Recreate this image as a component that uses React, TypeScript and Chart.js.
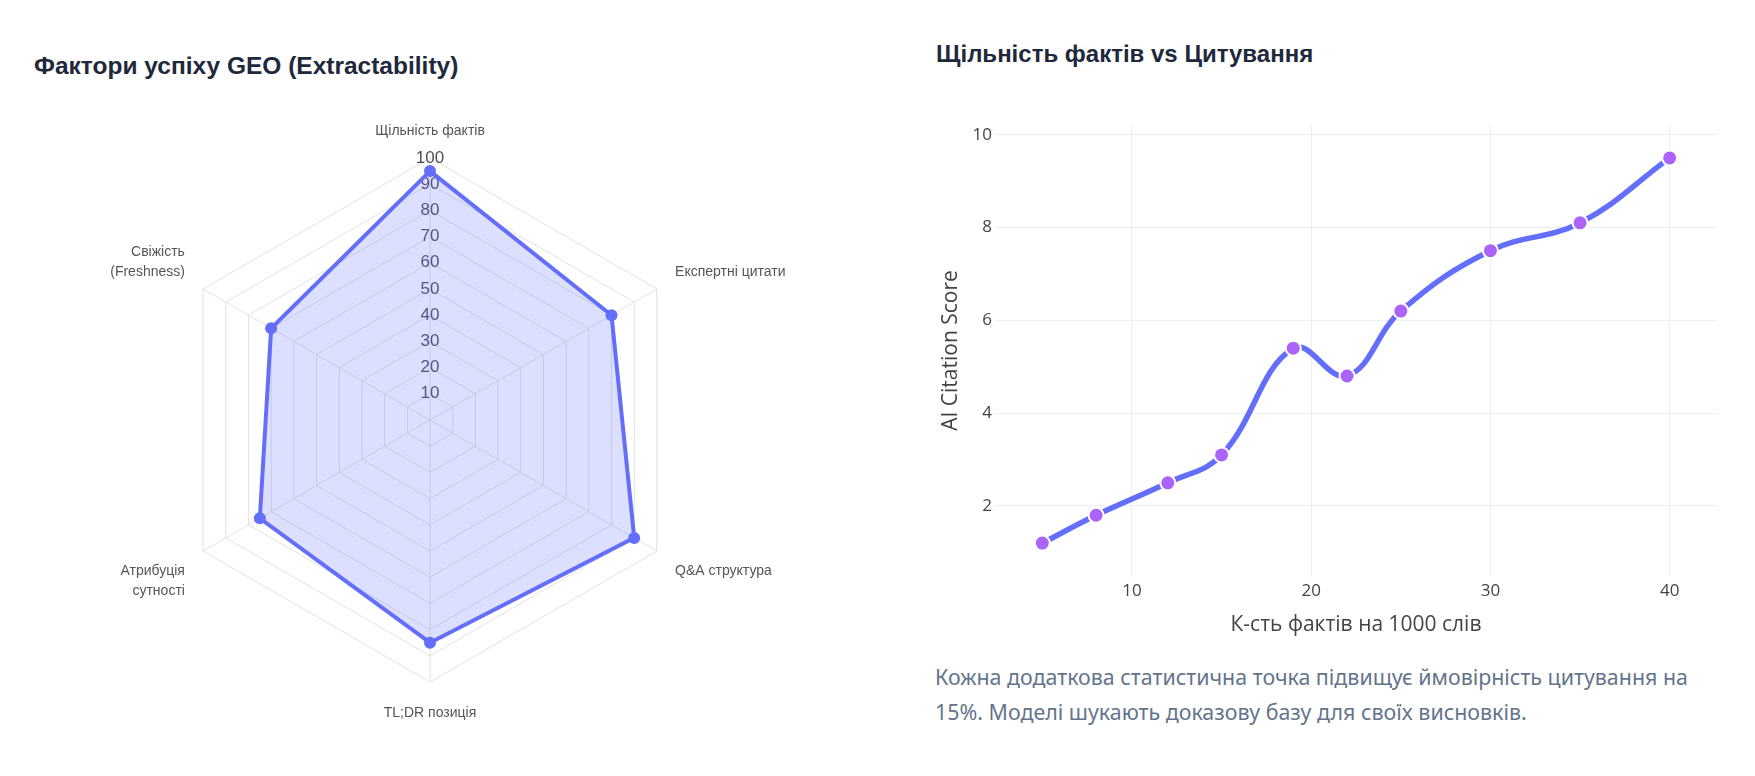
import { useEffect, useRef } from 'react'
import { Chart, ChartConfiguration, registerables } from 'chart.js'

Chart.register(...registerables)

// ---- radar data ----
const radarLabels: string[][] = [
  ['Щільність фактів'],
  ['Експертні цитати'],
  ['Q&A структура'],
  ['TL;DR позиція'],
  ['Атрибуція', 'сутності'],
  ['Свіжість', '(Freshness)'],
]
const radarValues = [95, 80, 90, 85, 75, 70]

// ---- line data ----
const factDensity = [5, 8, 12, 15, 19, 22, 25, 30, 35, 40]
const citationScore = [1.2, 1.8, 2.5, 3.1, 5.4, 4.8, 6.2, 7.5, 8.1, 9.5]
const xTickValues = [10, 20, 30, 40]
const yTickValues = [2, 4, 6, 8, 10]

const PLOTLY_BLUE = '#636efa'
const PLOTLY_PURPLE = '#ab63fa'
const RADAR_FONT = '"Liberation Sans", Arial, sans-serif'
const LINE_FONT = '"Open Sans", "Noto Sans", sans-serif'

const LABEL_GAP = 21
const LABEL_LINE = 20

// point labels drawn next to the radial scale, plotly-style
const radarLabelPlugin = {
  id: 'radarLabels',
  afterDraw(chart: Chart) {
    const scale: any = chart.scales.r
    const ctx = chart.ctx
    ctx.save()
    ctx.font = `14px ${RADAR_FONT}`
    ctx.fillStyle = '#555'
    ctx.textBaseline = 'middle'
    radarLabels.forEach((lines, i) => {
      const p = scale.getPointPosition(i, scale.drawingArea + LABEL_GAP)
      const deg = Math.round((scale.getIndexAngle(i) * 180) / Math.PI) % 360
      ctx.textAlign = deg === 0 || deg === 180 ? 'center' : deg < 180 ? 'left' : 'right'
      const h = lines.length * LABEL_LINE
      // labels above the point sit a bit lower in the original
      const top = deg < 90 || deg > 270 ? p.y - h + 4 : p.y
      lines.forEach((t, k) => ctx.fillText(t, p.x, top + LABEL_LINE * k + LABEL_LINE / 2))
    })
    ctx.restore()
  },
}

function RadarChart() {
  const canvasRef = useRef<HTMLCanvasElement>(null)

  useEffect(() => {
    if (!canvasRef.current) return
    const config: ChartConfiguration<'radar'> = {
      type: 'radar',
      data: {
        labels: radarLabels.map((l) => l.join(' ')),
        datasets: [
          {
            data: radarValues,
            borderColor: PLOTLY_BLUE,
            backgroundColor: 'rgba(99, 110, 250, 0.22)',
            borderWidth: 4,
            fill: true,
            pointRadius: 6,
            pointBackgroundColor: PLOTLY_BLUE,
            pointBorderWidth: 0,
          },
        ],
      },
      options: {
        animation: false,
        responsive: true,
        maintainAspectRatio: false,
        layout: { padding: { left: 117, right: 117, top: 47, bottom: 57 } },
        plugins: { legend: { display: false }, tooltip: { enabled: false } },
        elements: { line: { tension: 0 } },
        scales: {
          r: {
            min: 0,
            max: 100,
            ticks: {
              stepSize: 10,
              showLabelBackdrop: false,
              color: '#4f4f5a',
              font: { family: RADAR_FONT, size: 17 },
            },
            grid: { color: '#e2e2e2', lineWidth: 1 },
            angleLines: { color: '#e2e2e2', lineWidth: 1 },
            pointLabels: { display: false },
          },
        },
      },
      plugins: [radarLabelPlugin],
    }
    const chart = new Chart(canvasRef.current, config)
    return () => chart.destroy()
  }, [])

  return (
    <div style={{ position: 'absolute', left: 40, top: 100, width: 780, height: 650 }}>
      <canvas ref={canvasRef} />
    </div>
  )
}

function DensityChart() {
  const canvasRef = useRef<HTMLCanvasElement>(null)

  useEffect(() => {
    if (!canvasRef.current) return
    const config: ChartConfiguration<'line'> = {
      type: 'line',
      data: {
        datasets: [
          {
            data: factDensity.map((x, i) => ({ x, y: citationScore[i] })),
            borderColor: PLOTLY_BLUE,
            borderWidth: 5.5,
            tension: 0.4,
            fill: false,
            pointRadius: 7.5,
            pointBackgroundColor: PLOTLY_PURPLE,
            pointBorderColor: '#ffffff',
            pointBorderWidth: 2,
          },
        ],
      },
      options: {
        animation: false,
        responsive: true,
        maintainAspectRatio: false,
        layout: { padding: { left: 5, right: 13, top: 24, bottom: 0 } },
        plugins: { legend: { display: false }, tooltip: { enabled: false } },
        scales: {
          x: {
            type: 'linear',
            min: 2.36,
            max: 42.64,
            afterBuildTicks: (s: any) => {
              s.ticks = xTickValues.map((v) => ({ value: v }))
            },
            afterFit: (s: any) => {
              s.height = 70
            },
            grid: { color: '#ebf0f8', drawTicks: false },
            border: { display: false },
            ticks: { padding: 4, color: '#444', font: { family: LINE_FONT, size: 17 } },
            title: {
              display: true,
              text: 'К-сть фактів на 1000 слів',
              color: '#444',
              font: { family: LINE_FONT, size: 21 },
              padding: { top: 0, bottom: 9 },
            },
          },
          y: {
            type: 'linear',
            min: 0.47,
            max: 10.23,
            afterBuildTicks: (s: any) => {
              s.ticks = yTickValues.map((v) => ({ value: v }))
            },
            afterFit: (s: any) => {
              s.width = 60
            },
            grid: { color: '#ebf0f8', drawTicks: false },
            border: { display: false },
            ticks: { padding: 3, color: '#444', font: { family: LINE_FONT, size: 17 } },
            title: {
              display: true,
              text: 'AI Citation Score',
              color: '#444',
              font: { family: LINE_FONT, size: 21 },
              padding: { top: 3, bottom: 0 },
            },
          },
        },
      },
    }
    const chart = new Chart(canvasRef.current, config)
    return () => chart.destroy()
  }, [])

  return (
    <div style={{ position: 'absolute', left: 930, top: 100, width: 800, height: 547 }}>
      <canvas ref={canvasRef} />
    </div>
  )
}

const titleStyle: React.CSSProperties = {
  position: 'absolute',
  margin: 0,
  fontFamily: RADAR_FONT,
  fontWeight: 700,
  fontSize: 24,
  lineHeight: '30px',
  color: '#1e293b',
  whiteSpace: 'nowrap',
}

export default function App() {
  return (
    <div
      style={{
        position: 'absolute',
        left: 0,
        top: 0,
        width: 1755,
        height: 776,
        overflow: 'hidden',
        background: '#ffffff',
      }}
    >
      <div style={{ ...titleStyle, left: 34, top: 51, fontSize: 24.5 }}>
        Фактори успіху GEO (Extractability)
      </div>
      <div style={{ ...titleStyle, left: 936, top: 39 }}>Щільність фактів vs Цитування</div>
      <RadarChart />
      <DensityChart />
      <div
        style={{
          position: 'absolute',
          left: 935,
          top: 659,
          width: 785,
          fontFamily: '"Noto Sans", sans-serif',
          fontSize: 21.4,
          lineHeight: '35px',
          color: '#64748b',
        }}
      >
        Кожна додаткова статистична точка підвищує ймовірність цитування на 15%. Моделі шукають
        доказову базу для своїх висновків.
      </div>
    </div>
  )
}
